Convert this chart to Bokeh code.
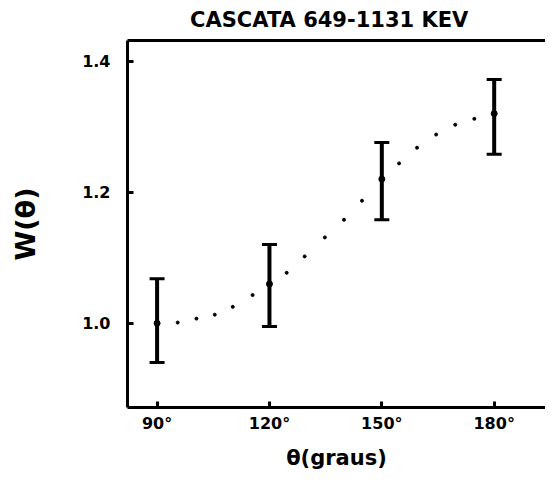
from bokeh.plotting import figure
from bokeh.models import ColumnDataSource, Whisker, TeeHead, FixedTicker, LinearAxis
from bokeh.embed import file_html
from bokeh.resources import INLINE

# measured points (angle in degrees, W(theta))
theta = [90, 120, 150, 180]
w_val = [1.00, 1.06, 1.22, 1.32]
w_upper = [1.068, 1.120, 1.276, 1.372]
w_lower = [0.940, 0.995, 1.158, 1.258]

# dotted fitted curve
curve_theta = [95.5, 100.5, 105.4, 110.2, 115.5, 124.6, 129.4, 134.8, 139.9,
               144.7, 154.6, 159.4, 164.5, 169.6, 174.7]
curve_w = [1.001, 1.007, 1.013, 1.025, 1.043, 1.077, 1.102, 1.131, 1.158,
           1.187, 1.244, 1.268, 1.288, 1.303, 1.312]

x_ticks = [90, 120, 150, 180]
x_tick_labels = ["90°", "120°", "150°", "180°"]
y_ticks = [1.0, 1.2, 1.4]
y_tick_labels = ["1.0", "1.2", "1.4"]

title_text = "CASCATA   649-1131 KEV"
x_label = "θ(graus)"
y_label = "W(θ)"

p = figure(width=545, height=479, x_range=(82.1, 193.7), y_range=(0.8713, 1.4316),
           output_backend="svg", toolbar_location=None,
           min_border_left=127, min_border_right=0, min_border_top=39, min_border_bottom=72)
p.background_fill_color = "white"
p.border_fill_color = "white"
p.outline_line_color = None
p.grid.visible = False

bottom_axis = p.below[0]
left_axis = p.left[0]

p.title.text = title_text
p.title.align = "center"
p.title.vertical_align = "top"
p.title.text_color = "black"
p.title.text_font = "DejaVu Sans"
p.title.text_font_style = "bold"
p.title.text_font_size = "21px"
p.title.standoff = 14
p.title.offset = 14

top_axis = LinearAxis(ticker=FixedTicker(ticks=[]), major_label_text_font_size="0px",
                      major_tick_out=0, major_tick_in=0, minor_tick_out=0, minor_tick_in=0,
                      major_label_standoff=0, axis_line_width=3, axis_line_color="black")
p.add_layout(top_axis, "above")

for ax in (bottom_axis, left_axis):
    ax.axis_line_width = 3
    ax.axis_line_color = "black"
    ax.major_tick_in = 6
    ax.major_tick_out = 0
    ax.major_tick_line_width = 3
    ax.major_tick_line_color = "black"
    ax.minor_tick_line_color = None
    ax.major_label_text_font = "DejaVu Sans"
    ax.major_label_text_font_style = "bold"
    ax.major_label_text_font_size = "16px"
    ax.major_label_text_color = "black"
    ax.axis_label_text_font = "DejaVu Sans"
    ax.axis_label_text_font_style = "bold"
    ax.axis_label_text_color = "black"

bottom_axis.ticker = FixedTicker(ticks=x_ticks)
bottom_axis.major_label_overrides = {t: l for t, l in zip(x_ticks, x_tick_labels)}
bottom_axis.major_label_standoff = 6
bottom_axis.axis_label = x_label
bottom_axis.axis_label_text_font_size = "21px"
bottom_axis.axis_label_standoff = 10

left_axis.ticker = FixedTicker(ticks=y_ticks)
left_axis.major_label_overrides = {t: l for t, l in zip(y_ticks, y_tick_labels)}
left_axis.major_label_standoff = 17
left_axis.axis_label = y_label
left_axis.axis_label_text_font_size = "27px"
left_axis.axis_label_standoff = 38

src = ColumnDataSource(dict(theta=theta, w=w_val, upper=w_upper, lower=w_lower))
p.add_layout(Whisker(source=src, base="theta", upper="upper", lower="lower",
                     line_width=4, line_color="black",
                     upper_head=TeeHead(size=15, line_width=3, line_color="black"),
                     lower_head=TeeHead(size=15, line_width=3, line_color="black")))
p.scatter("theta", "w", source=src, size=6, color="black")

p.scatter(curve_theta, curve_w, size=3, color="black")

open("out.html", "w").write(file_html(p, INLINE))
